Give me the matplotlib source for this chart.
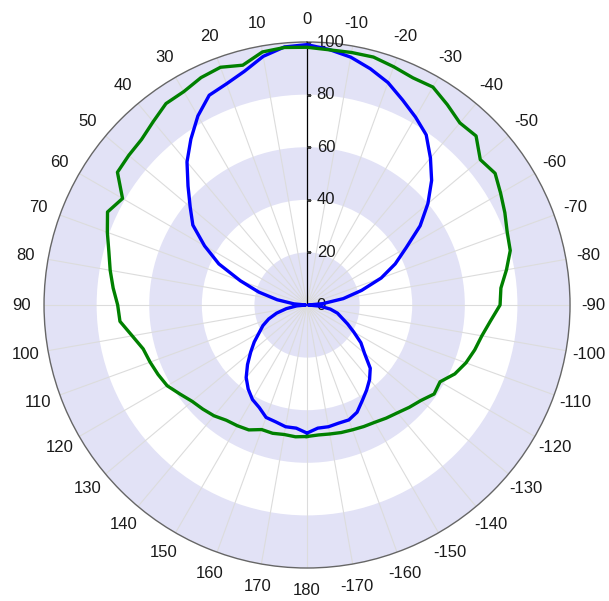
import numpy as np
import matplotlib
matplotlib.use("Agg")
import matplotlib.pyplot as plt

plt.rcParams['font.family'] = ['Liberation Sans', 'DejaVu Sans']

# angles in degrees (0 at top, positive to the left)
angulos = np.arange(-180, 185, 5)

# blue series: figure-eight pattern
azul = [48.7, 47, 47, 46.5, 46.5, 45, 42, 39.5, 37, 34, 28.5, 25, 20.5, 17, 14, 12, 9, 5,
        0.5, 6, 14, 21.5, 30, 37, 43.5, 52.5, 60, 67, 73, 79, 82.5, 86, 90, 93, 95.7, 97.5,
        99,
        98.5, 96, 92, 89.5, 88, 83, 77, 71, 64, 58, 53, 45, 37, 27, 19, 11.5, 5,
        0.5, 4, 8, 12, 15.5, 18.5, 21, 24.5, 28, 32, 36, 39, 41.5, 43, 45.5, 46, 47, 47,
        48.7]

# green series: wide pattern
verde = [50, 49.6, 49.8, 50.2, 50.5, 51, 51.5, 52.5, 53.5, 55, 56.5, 59, 58.4, 62, 64.3, 66, 67.5, 70,
         73.4, 74, 77, 80, 81, 83, 85, 87.3, 86, 90.9, 90.4, 93, 95.7, 95.3, 96.4, 97.6, 97.5, 97.4,
         98,
         98.3, 97.7, 94.4, 96.2, 95.4, 93.7, 93.5, 91, 89, 88.5, 88, 81, 83.7, 80.8, 78, 76, 74,
         72, 71.4, 67.5, 64.5, 63.5, 62.5, 61.4, 59, 57, 56, 55, 53.5, 53, 52.4, 50.4, 50.5, 50, 50.3,
         50]

graus_ticks = np.arange(0, 360, 10)
rotulos_theta = [str(g) if g <= 180 else str(g - 360) for g in graus_ticks]
r_ticks = [0, 20, 40, 60, 80, 100]

fig = plt.figure(figsize=(6.09, 6.01), dpi=100)
ax = fig.add_axes([0.0723, 0.0549, 0.8637, 0.8752], projection='polar')
ax.set_theta_zero_location('N')
ax.set_theta_direction(1)
ax.set_ylim(0, 100)

# alternating shaded rings
for base in [0, 40, 80]:
    ax.bar(0, 20, width=2 * np.pi, bottom=base, color='#e2e2f6', edgecolor='none',
           zorder=0.5, align='center')

ax.set_xticks(np.deg2rad(graus_ticks))
ax.set_xticklabels(rotulos_theta, fontsize=12, color='#1a1a1a')
ax.tick_params(axis='x', pad=5.5, length=4, width=0.8, color='#555555', direction='out')
ax.xaxis.grid(True, color='#dcdcdc', lw=0.8)
ax.yaxis.grid(False)
ax.set_yticks(r_ticks)
ax.set_yticklabels([])
ax.spines['polar'].set_color('#666666')
ax.spines['polar'].set_linewidth(1.0)

# radial axis line with its labels
ax.plot([0, 0], [0, 100], color='black', lw=0.9, zorder=3)
ax.plot([0] * len(r_ticks), r_ticks, ls='none', marker=1, markersize=3,
        markeredgewidth=0.8, color='#444444', zorder=3)
for v in r_ticks:
    ax.annotate(str(v), xy=(0, v), xytext=(7, 0), textcoords='offset points',
                ha='left', va='center', fontsize=12, color='#1a1a1a', zorder=4)

ax.plot(np.deg2rad(angulos), azul, color='#0000ff', lw=2.4, zorder=5)
ax.plot(np.deg2rad(angulos), verde, color='#008000', lw=2.4, zorder=6)

fig.savefig('out.png', dpi=100)
